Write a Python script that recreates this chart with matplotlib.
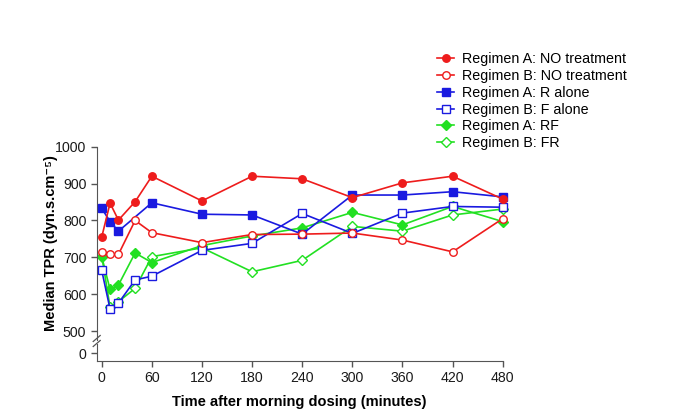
import matplotlib
matplotlib.use("Agg")
import matplotlib.pyplot as plt

plt.rcParams['font.family'] = ['Liberation Sans', 'DejaVu Sans']

time_all = [0, 10, 20, 40, 60, 120, 180, 240, 300, 360, 420, 480]
time_no40 = [0, 10, 20, 60, 120, 180, 240, 300, 360, 420, 480]

a_no_treatment = [755, 847, 801, 851, 920, 853, 920, 913, 862, 902, 920, 858]
b_no_treatment = [715, 708, 708, 800, 767, 740, 762, 763, 766, 747, 715, 805]
a_r_alone = [833, 797, 771, 848, 817, 815, 763, 869, 869, 878, 864]
b_f_alone = [665, 560, 576, 639, 649, 719, 738, 819, 765, 820, 838, 836]
a_rf = [702, 613, 625, 712, 686, 732, 758, 780, 822, 788, 838, 797]
b_fr = [705, 565, 580, 616, 702, 726, 661, 692, 784, 771, 815, 831]

labels = ["Regimen A: NO treatment", "Regimen B: NO treatment",
          "Regimen A: R alone", "Regimen B: F alone",
          "Regimen A: RF", "Regimen B: FR"]
x_ticks = [0, 60, 120, 180, 240, 300, 360, 420, 480]
y_ticks = [500, 600, 700, 800, 900, 1000]

RED = '#EE1C1C'
BLUE = '#1A1AE0'
GREEN = '#22E022'

W, H = 685, 413
fig = plt.figure(figsize=(W / 100, H / 100), dpi=100)

left = 96.7 / W
width = (502.7 - 96.7) / W
ax = fig.add_axes([left, 1 - 340.4 / H, width, (340.4 - 146.7) / H])
axb = fig.add_axes([left, 1 - 360.7 / H, width, (360.7 - 344.0) / H], sharex=ax)

series = [
    (time_all, a_no_treatment, RED, 'o', True, 5.4, 6),
    (time_all, b_no_treatment, RED, 'o', False, 5.4, 5),
    (time_no40, a_r_alone, BLUE, 's', True, 5.4, 4),
    (time_all, b_f_alone, BLUE, 's', False, 5.8, 3),
    (time_all, a_rf, GREEN, 'D', True, 4.8, 2),
    (time_all, b_fr, GREEN, 'D', False, 4.8, 1),
]
handles = []
for (tx, vals, col, mk, filled, ms, z), lab in zip(series, labels):
    h, = ax.plot(tx, vals, color=col, marker=mk, markersize=ms, lw=1.2,
                 markerfacecolor=col if filled else 'white',
                 markeredgecolor=col, markeredgewidth=1.0,
                 clip_on=False, zorder=z, label=lab)
    handles.append(h)

spine_col = '#555555'
for a in (ax, axb):
    a.spines['top'].set_visible(False)
    a.spines['right'].set_visible(False)
    a.spines['left'].set_color(spine_col)
    a.spines['bottom'].set_color(spine_col)
    a.tick_params(colors=spine_col, labelcolor='#1a1a1a', labelsize=10.2,
                  length=4, width=1, direction='out')
    a.set_facecolor('none')

ax.set_ylim(475, 1000)
ax.set_xlim(-6, 480)
ax.set_yticks(y_ticks)
ax.spines['bottom'].set_visible(False)
ax.tick_params(axis='x', bottom=False, labelbottom=False)

axb.set_ylim(-23, 27)
axb.set_yticks([0])
axb.set_xticks(x_ticks)
axb.set_xlim(-6, 480)

# break marks
kw = dict(color=spine_col, lw=0.9, clip_on=False, transform=fig.transFigure)
xb = 96.7 / W
for yb in (338.5, 343.5):
    ax.plot([xb - 3.5 / W, xb + 3.5 / W],
            [1 - (yb + 3) / H, 1 - (yb - 3) / H], **kw)

axb.set_xlabel("Time after morning dosing (minutes)", fontsize=10.5,
               fontweight='bold', labelpad=7)
fig.text(51.5 / W, 1 - 243.5 / H, "Median TPR (dyn.s.cm\u207b\u2075)",
         rotation=90, ha='center', va='center', fontsize=10.5,
         fontweight='bold', family=['Liberation Sans', 'DejaVu Sans'])

fig.legend(handles=handles, loc='upper left',
           bbox_to_anchor=(437 / W, 1 - 52 / H), frameon=False,
           fontsize=10.3, handlelength=1.2, handletextpad=0.55,
           labelspacing=0.2, borderaxespad=0, borderpad=0)

fig.savefig("out.png", dpi=100)
